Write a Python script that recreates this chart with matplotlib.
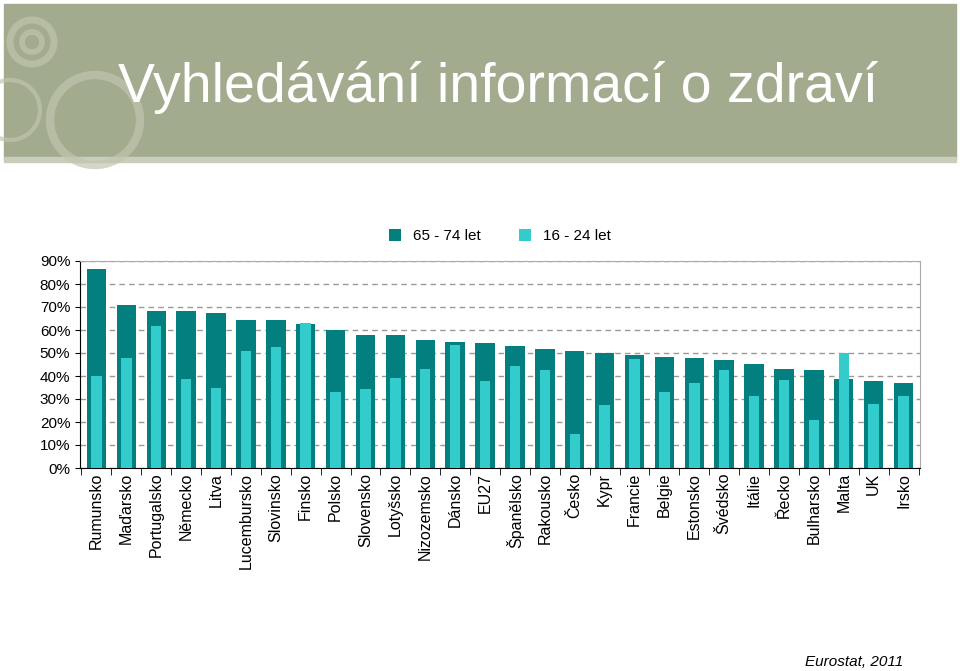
import numpy as np
import matplotlib.pyplot as plt
from matplotlib.patches import Rectangle, Circle

countries = ["Rumunsko", "Maďarsko", "Portugalsko", "Německo", "Litva", "Lucembursko",
             "Slovinsko", "Finsko", "Polsko", "Slovensko", "Lotyšsko", "Nizozemsko",
             "Dánsko", "EU27", "Španělsko", "Rakousko", "Česko", "Kypr", "Francie",
             "Belgie", "Estonsko", "Švédsko", "Itálie", "Řecko", "Bulharsko", "Malta",
             "UK", "Irsko"]
old_65_74 = [86.5, 70.8, 68.2, 68.2, 67.5, 64.2, 64.2, 62.5, 59.8, 57.8, 57.8, 55.8,
             54.7, 54.2, 52.9, 51.6, 51.0, 50.1, 49.1, 48.4, 47.8, 47.1, 45.1, 43.2,
             42.5, 38.7, 38.0, 36.8]
young_16_24 = [39.8, 47.7, 61.7, 38.5, 35.0, 51.0, 52.8, 63.0, 33.0, 34.2, 39.2, 43.0,
               53.5, 38.0, 44.5, 42.6, 14.7, 27.2, 47.3, 32.9, 36.8, 42.6, 31.1, 38.2,
               20.7, 49.9, 27.7, 31.1]

dark = "#037f7f"
light = "#33cccc"

fig = plt.figure(figsize=(9.6, 6.71), dpi=100)

# slide header band
bg = fig.add_axes([0, 0, 1, 1])
bg.set_xlim(0, 960)
bg.set_ylim(671, 0)
bg.axis("off")
bg.add_patch(Rectangle((4, 4), 952, 155, color="#a3ab8f", zorder=0))
bg.add_patch(Rectangle((4, 157), 952, 5, color="#c9cdbb", zorder=0))
for cx, cy, r, lw in [(32, 42, 22, 5), (32, 42, 10, 4), (95, 120, 45, 6), (10, 110, 30, 3)]:
    bg.add_patch(Circle((cx, cy), r, fill=False, ec="#c0c6ae", lw=lw, alpha=0.7, zorder=1))
bg.text(118, 88, "Vyhledávání informací o zdraví", fontsize=40, color="white",
        family="Liberation Sans", va="center", ha="left", zorder=2)
bg.text(903, 662, "Eurostat, 2011", fontsize=11, style="italic", ha="right",
        va="center", family="Liberation Sans")

ax = fig.add_axes([80 / 960, 1 - 468 / 671, 840 / 960, 207 / 671])
x = np.arange(len(countries))
ax.bar(x, old_65_74, width=0.65, color=dark, label="65 - 74 let", zorder=2)
ax.bar(x, young_16_24, width=0.35, color=light, label="16 - 24 let", zorder=3)
ax.set_xlim(-0.55, len(countries) - 0.45)
ax.set_ylim(0, 90)
ax.set_yticks(range(0, 91, 10))
ax.set_yticklabels([f"{v}%" for v in range(0, 91, 10)], fontsize=11,
                   family="Liberation Sans")
ax.yaxis.grid(True, ls=(0, (4, 3)), color="#999999", lw=1, zorder=0)
ax.set_xticks(x)
ax.set_xticklabels(countries, rotation=90, fontsize=11.5, family="Liberation Sans")
ax.set_xticks(np.arange(len(countries) + 1) - 0.5, minor=True)
ax.tick_params(axis="x", which="major", length=0)
ax.tick_params(axis="x", which="minor", length=5)
for s in ["top", "right"]:
    ax.spines[s].set_color("#aaaaaa")
ax.legend(loc="lower center", bbox_to_anchor=(0.5, 1.02), ncol=2, frameon=False,
          handlelength=0.8, handleheight=0.8, columnspacing=2.5,
          prop={"family": "Liberation Sans", "size": 11})

plt.savefig("out.png", dpi=100)
